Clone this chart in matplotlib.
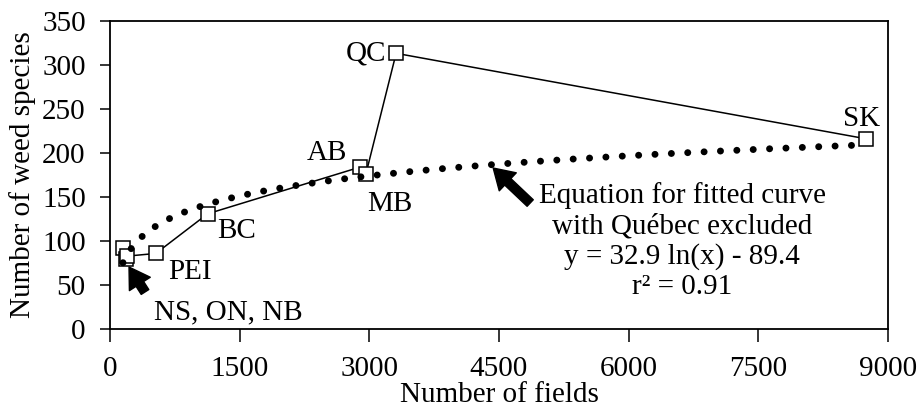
import numpy as np
import matplotlib.pyplot as plt

# === DATA ===
provinces = ["NS", "ON", "NB", "PEI", "BC", "AB", "MB", "QC", "SK"]
n_fields = [150, 190, 200, 530, 1130, 2895, 2960, 3310, 8750]
n_species = [92, 80, 83, 86, 131, 184, 176, 313, 216]

# fitted curve (Québec excluded): y = a ln(x) + b
fit_a = 32.9
fit_b = -89.4

x_ticks = [0, 1500, 3000, 4500, 6000, 7500, 9000]
y_ticks = [0, 50, 100, 150, 200, 250, 300, 350]

# === STYLE ===
plt.rcParams['font.family'] = ['Liberation Serif', 'DejaVu Serif']
fs = 21

fig = plt.figure(figsize=(9.22, 4.09), dpi=100)
ax = fig.add_axes([0.1193, 0.1949, 0.8438, 0.7545])

# data line + markers
ax.plot(n_fields, n_species, color='black', linewidth=1.1, zorder=2,
        marker='s', markersize=10, markerfacecolor='white',
        markeredgecolor='black', markeredgewidth=1.1)

# fitted curve, round dots
xf = np.linspace(min(n_fields), max(n_fields), 500)
yf = fit_a * np.log(xf) + fit_b
ax.plot(xf, yf, color='black', linewidth=5, linestyle=(0, (0.01, 2.35)),
        dash_capstyle='round', zorder=3)

# labels for points
offsets = {
    "QC": (-10, 0, 'right', 'center'),
    "SK": (-5, 20, 'center', 'center'),
    "AB": (-13, 14, 'right', 'center'),
    "MB": (1, -30, 'left', 'center'),
    "BC": (10, -17, 'left', 'center'),
    "PEI": (12, -19, 'left', 'center'),
}
for name, x, y in zip(provinces, n_fields, n_species):
    if name in offsets:
        dx, dy, ha, va = offsets[name]
        ax.annotate(name, (x, y), xytext=(dx, dy), textcoords='offset pixels',
                    ha=ha, va=va, fontsize=fs, zorder=5)

ax.text(1366, 19.6, "NS, ON, NB", ha='center', va='center', fontsize=fs)

# arrows
arrow_style = dict(arrowstyle='simple,head_length=0.85,head_width=1.05,tail_width=0.38',
                   fc='black', ec='black', shrinkA=0, shrinkB=0, mutation_scale=17)
ax.annotate('', xy=(220, 70.6), xytext=(405, 42.3), arrowprops=arrow_style)
ax.annotate('', xy=(4433, 182.9), xytext=(4861, 143.2), arrowprops=arrow_style)

ax.text(6620, 100, "Equation for fitted curve\nwith Québec excluded\n"
        "y = 32.9 ln(x) - 89.4\nr² = 0.91",
        ha='center', va='center', multialignment='center', fontsize=fs,
        linespacing=1.2)

# axes
ax.set_xlim(0, 9000)
ax.set_ylim(0, 350)
ax.set_xticks(x_ticks)
ax.set_yticks(y_ticks)
ax.tick_params(direction='out', width=1.1, labelsize=fs)
ax.tick_params(axis='y', length=7.5, pad=10)
ax.tick_params(axis='x', length=9, pad=10)
for s in ax.spines.values():
    s.set_linewidth(1.3)
ax.set_xlabel("Number of fields", fontsize=fs, labelpad=0)
ax.set_ylabel("Number of weed species", fontsize=fs, labelpad=4)

fig.savefig("out.png", dpi=100)
